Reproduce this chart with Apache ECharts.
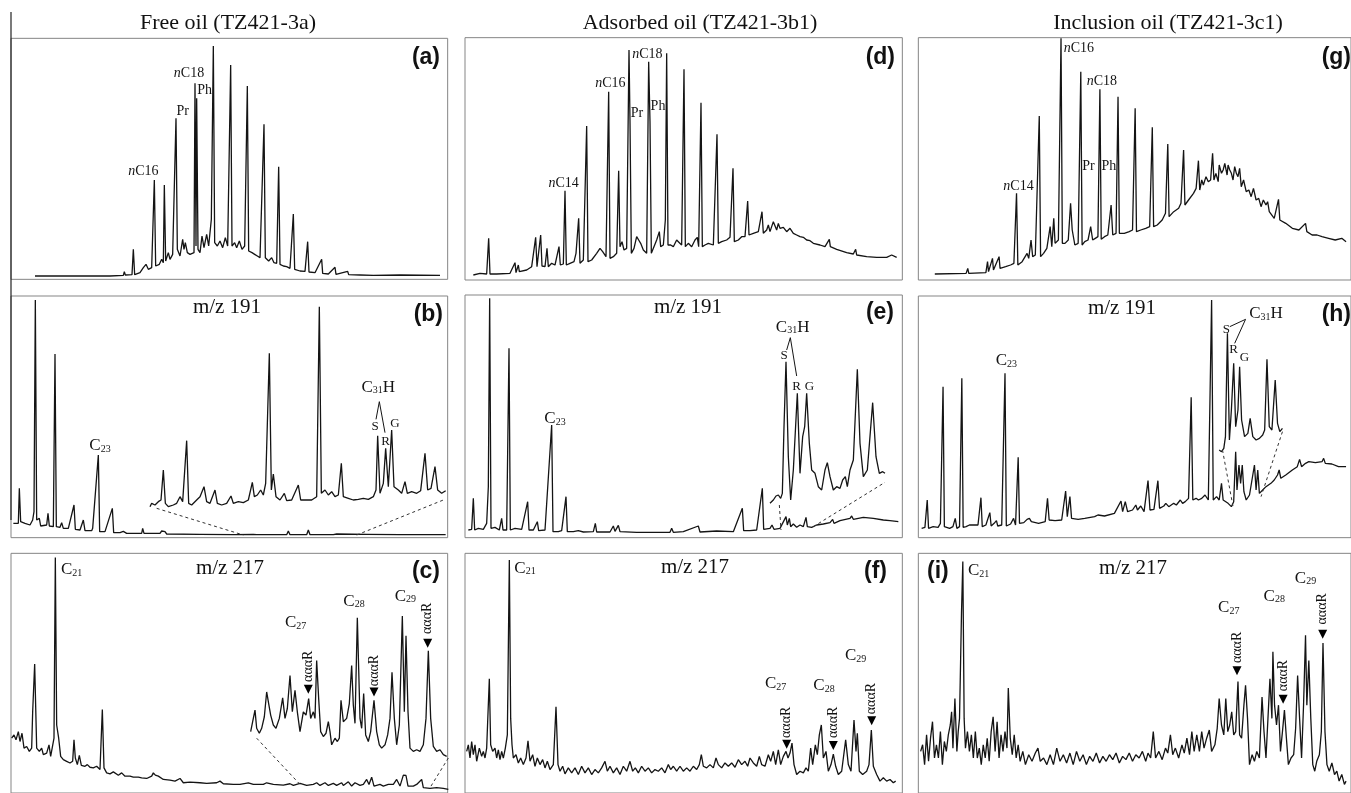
<!DOCTYPE html>
<html><head><meta charset="utf-8">
<script src="https://cdn.jsdelivr.net/npm/echarts/dist/echarts.min.js"></script>
<style>html,body{margin:0;padding:0;background:#fff}#c{width:1351px;height:793px}</style>
</head><body><div id="c"></div>
<script>
// ---------------- DATA (x = scan index, y = relative abundance) ----------------
const panelTitles = ['Free oil (TZ421-3a)', 'Adsorbed oil (TZ421-3b1)', 'Inclusion oil (TZ421-3c1)'];
const panelLetters = ['(a)','(b)','(c)','(d)','(e)','(f)','(g)','(h)','(i)'];
const ionLabels = ['m/z 191','m/z 217'];
const alphaLabel = '\u03b1\u03b1\u03b1R';

const traceA = [[105,10],[330,10],[332,16],[335,10],[370,12],[373,23],[376,13],[396,14],[400,90],[404,14],[420,20],[430,35],[438,45],[445,30],[455,35],[460,32],[463,298],[467,40],[478,45],[485,60],[490,50],[493,283],[497,55],[505,80],[510,60],[518,75],[524,70],[528,483],[532,90],[540,70],[548,120],[552,90],[556,110],[562,80],[570,75],[576,70],[582,80],[585,588],[588,100],[590,543],[594,90],[600,80],[606,130],[612,95],[620,135],[626,100],[634,180],[640,700],[644,110],[652,100],[660,115],[668,95],[676,125],[683,100],[692,643],[696,100],[704,110],[710,95],[718,115],[726,90],[734,100],[742,580],[746,85],[756,80],[764,75],[772,70],[780,65],[792,465],[796,65],[806,55],[815,65],[822,50],[830,48],[836,338],[840,45],[850,40],[860,38],[870,33],[880,196],[884,30],[900,25],[915,24],[923,113],[927,22],[945,20],[965,60],[968,18],[985,16],[1005,36],[1008,15],[1043,24],[1046,14],[1080,13],[1120,12],[1200,13],[1320,12]];

const traceD = [[70,15],[90,20],[110,18],[116,125],[120,18],[140,18],[180,20],[195,52],[198,22],[205,45],[208,25],[230,30],[245,40],[257,128],[261,40],[272,135],[276,42],[285,40],[291,95],[295,40],[305,50],[315,45],[327,100],[331,45],[340,48],[345,268],[349,45],[360,50],[372,55],[378,80],[386,185],[390,50],[400,60],[410,462],[414,55],[425,60],[440,80],[450,95],[458,85],[468,70],[476,565],[480,65],[490,70],[500,80],[506,328],[510,100],[516,115],[522,90],[530,95],[537,690],[540,475],[544,80],[552,95],[560,130],[566,120],[572,110],[580,90],[590,80],[596,655],[600,475],[604,80],[614,105],[620,120],[628,145],[632,100],[640,105],[646,180],[650,680],[654,105],[662,105],[670,100],[680,120],[688,112],[695,105],[702,632],[706,100],[715,110],[725,100],[735,120],[742,128],[746,100],[753,532],[757,100],[765,105],[775,110],[790,105],[801,437],[805,110],[815,115],[830,120],[840,128],[849,335],[853,115],[865,120],[875,130],[885,130],[893,237],[897,135],[910,140],[925,145],[936,205],[940,140],[950,150],[955,165],[960,145],[965,160],[970,175],[975,170],[980,150],[985,170],[990,155],[995,150],[1000,158],[1005,160],[1010,145],[1015,150],[1020,155],[1030,140],[1040,135],[1050,130],[1060,128],[1070,120],[1080,118],[1090,110],[1110,105],[1125,100],[1138,122],[1141,100],[1160,92],[1190,82],[1210,78],[1217,92],[1220,75],[1250,70],[1280,68],[1310,68],[1325,75],[1340,68]];

const traceG = [[105,18],[200,20],[205,35],[208,20],[260,22],[265,55],[268,25],[280,65],[283,30],[300,70],[303,35],[320,40],[335,45],[345,50],[353,260],[357,45],[370,55],[385,80],[390,65],[397,120],[402,70],[410,75],[422,492],[426,70],[435,80],[445,95],[455,160],[460,100],[466,185],[470,110],[480,120],[488,725],[492,110],[500,110],[510,120],[517,230],[522,150],[530,105],[540,110],[548,625],[552,105],[560,115],[570,120],[578,160],[584,120],[592,125],[600,130],[606,572],[610,122],[620,130],[630,135],[640,225],[645,135],[655,140],[661,550],[665,140],[680,140],[695,145],[705,150],[713,515],[717,145],[730,150],[745,155],[757,160],[765,458],[769,160],[780,165],[795,180],[805,200],[812,408],[816,190],[830,205],[845,215],[852,230],[860,390],[864,225],[875,240],[890,260],[898,275],[905,358],[909,270],[915,300],[920,285],[928,310],[935,295],[942,300],[948,380],[952,300],[958,320],[965,295],[968,345],[975,320],[980,330],[985,350],[992,315],[995,345],[1000,330],[1005,320],[1010,300],[1015,340],[1020,320],[1025,310],[1030,335],[1035,280],[1042,300],[1050,265],[1058,270],[1065,250],[1072,275],[1080,240],[1088,245],[1095,220],[1102,240],[1110,225],[1115,235],[1120,205],[1135,185],[1148,242],[1152,180],[1170,170],[1190,155],[1210,150],[1230,170],[1234,145],[1250,135],[1265,135],[1280,130],[1300,125],[1320,120],[1340,125],[1353,115]];

const traceB = [[40,43],[55,43],[58,148],[62,48],[75,43],[90,38],[98,53],[102,78],[106,713],[110,53],[118,58],[122,35],[140,38],[144,73],[148,35],[160,33],[165,551],[169,33],[180,31],[185,45],[190,28],[205,28],[222,98],[226,25],[240,23],[250,53],[255,21],[275,21],[278,28],[295,248],[299,18],[315,18],[320,23],[337,88],[341,15],[360,15],[370,19],[380,13],[425,13],[428,28],[432,13],[480,13],[485,20],[495,18],[500,11],[600,10],[700,9],[760,10],[765,15],[770,9],[860,9],[865,20],[870,9],[920,9],[925,23],[930,9],[1000,9],[1010,11],[1100,10],[1200,9],[1337,9]];
const insetB = [[450,93],[455,103],[465,98],[475,108],[483,113],[490,203],[496,103],[505,93],[520,98],[530,103],[540,123],[548,108],[560,291],[566,103],[575,98],[590,113],[600,123],[612,153],[620,108],[630,103],[645,143],[652,103],[665,98],[680,103],[693,125],[700,103],[715,108],[730,105],[745,113],[757,166],[763,123],[772,128],[782,143],[790,128],[797,163],[808,553],[814,143],[820,191],[828,123],[840,113],[853,133],[860,111],[875,113],[895,158],[902,113],[915,113],[935,113],[950,123],[958,693],[964,133],[975,143],[985,128],[995,138],[1005,123],[1015,128],[1024,223],[1030,123],[1045,118],[1060,113],[1075,115],[1090,118],[1105,115],[1120,123],[1128,143],[1133,306],[1140,133],[1150,163],[1157,268],[1165,153],[1175,323],[1182,153],[1195,143],[1205,133],[1215,168],[1222,133],[1235,138],[1250,133],[1262,141],[1275,253],[1283,143],[1293,148],[1305,213],[1313,143],[1325,133],[1337,141]];
const guidesB = [[[470,88],[730,8]], [[1070,8],[1330,113]]];
const caretB = [[1128,355],[1138,408],[1155,315]];

const traceE = [[55,23],[65,25],[70,118],[74,23],[85,28],[100,25],[110,43],[115,153],[119,718],[123,28],[135,31],[148,23],[155,58],[159,23],[170,23],[177,568],[181,23],[195,28],[200,23],[215,25],[233,108],[237,23],[250,23],[262,48],[266,21],[285,23],[290,18],[305,338],[309,18],[325,18],[335,21],[348,123],[352,18],[370,18],[385,21],[400,17],[430,18],[436,43],[440,17],[480,17],[490,35],[495,19],[505,37],[510,18],[560,16],[660,16],[665,28],[670,16],[700,18],[745,35],[750,17],[800,20],[850,18],[877,88],[881,21],[900,21],[920,23],[937,148],[941,25],[960,28],[966,38],[972,25],[990,28],[1008,63],[1012,38],[1018,58],[1022,33],[1030,41],[1040,31],[1050,38],[1060,33],[1068,61],[1072,33],[1085,31],[1100,38],[1120,41],[1140,45],[1148,55],[1152,43],[1170,51],[1200,58],[1205,65],[1210,55],[1240,61],[1270,58],[1300,53],[1320,51],[1345,48]];
const insetE = [[960,103],[970,113],[978,125],[985,128],[992,118],[997,133],[1002,333],[1008,528],[1015,243],[1022,113],[1030,203],[1042,433],[1050,193],[1058,303],[1064,333],[1070,433],[1078,283],[1085,203],[1095,193],[1105,153],[1115,143],[1125,203],[1132,225],[1140,183],[1150,143],[1160,153],[1170,148],[1178,173],[1186,183],[1192,153],[1200,203],[1210,233],[1222,505],[1230,283],[1240,183],[1252,203],[1268,405],[1278,243],[1288,193],[1298,198],[1305,193]];
const guidesE = [[[988,98],[993,23]], [[1090,33],[1305,166]]];
const caretE = [[1010,563],[1021,600],[1040,485]];

const traceH = [[65,28],[75,31],[82,113],[86,28],[100,33],[115,31],[122,43],[130,453],[134,33],[150,28],[160,33],[167,58],[172,28],[180,33],[187,478],[191,31],[200,33],[210,38],[225,38],[236,38],[245,120],[249,33],[260,38],[272,75],[276,35],[285,43],[292,51],[296,35],[308,38],[318,493],[322,35],[335,41],[344,58],[350,38],[358,241],[362,43],[375,45],[385,55],[392,58],[398,48],[420,43],[440,48],[447,118],[452,53],[470,51],[490,53],[502,140],[507,63],[515,123],[520,58],[540,55],[560,58],[590,63],[600,68],[620,65],[650,73],[670,110],[675,78],[683,108],[690,78],[705,83],[715,98],[720,83],[730,95],[740,78],[752,171],[758,83],[770,85],[782,171],[787,88],[800,95],[806,103],[815,93],[830,103],[838,98],[850,113],[857,103],[865,108],[875,118],[883,421],[888,113],[898,118],[905,113],[915,118],[925,128],[935,113],[945,713],[950,113],[960,123],[968,113],[975,163],[980,113],[995,103],[1005,93],[1012,108],[1018,258],[1022,143],[1028,218],[1033,163],[1038,218],[1043,138],[1050,113],[1060,128],[1065,133],[1075,218],[1080,143],[1085,203],[1090,133],[1100,143],[1110,153],[1125,163],[1135,173],[1145,188],[1150,203],[1155,178],[1170,188],[1190,203],[1205,213],[1212,235],[1218,213],[1230,223],[1240,228],[1260,225],[1280,228],[1285,238],[1290,223],[1310,221],[1330,213],[1353,213]];
const insetH = [[968,263],[975,258],[982,268],[987,303],[993,613],[999,293],[1005,383],[1012,523],[1018,333],[1025,383],[1030,513],[1036,353],[1045,303],[1055,313],[1062,358],[1070,303],[1080,293],[1090,298],[1100,308],[1106,323],[1113,535],[1120,333],[1128,323],[1138,473],[1145,343],[1152,318],[1160,328]];
const guidesH = [[[978,263],[1010,93]], [[1160,318],[1095,123]]];
const caretH = [[1000,633],[1048,655],[1015,583]];

const traceC = [[35,166],[42,176],[48,161],[55,186],[60,156],[66,181],[72,136],[80,141],[88,126],[95,136],[98,246],[104,391],[110,136],[118,126],[125,136],[130,116],[140,121],[147,146],[152,111],[158,111],[162,166],[166,713],[170,206],[176,166],[182,111],[190,101],[200,96],[210,91],[218,96],[222,161],[226,106],[232,86],[238,114],[244,84],[255,81],[262,86],[270,78],[280,76],[290,81],[300,71],[307,253],[312,76],[320,61],[330,58],[340,64],[355,54],[365,61],[375,51],[390,51],[400,48],[415,48],[425,46],[440,44],[455,51],[460,61],[466,54],[475,51],[490,41],[510,39],[525,36],[540,44],[550,31],[570,33],[600,31],[620,29],[650,31],[660,36],[670,28],[700,26],[720,26],[745,31],[760,26],[790,26],[800,31],[820,26],[850,24],[870,28],[880,23],[900,29],[920,23],[940,26],[950,31],[960,23],[975,31],[985,23],[1000,29],[1010,23],[1025,31],[1030,23],[1045,34],[1055,21],[1065,31],[1080,23],[1090,26],[1100,41],[1107,26],[1115,48],[1122,21],[1140,26],[1150,21],[1165,26],[1180,26],[1190,41],[1200,21],[1210,54],[1218,53],[1224,21],[1240,21],[1250,26],[1265,41],[1270,16],[1290,14],[1310,16],[1330,14],[1345,11]];
const insetC = [[752,186],[758,216],[765,251],[770,196],[778,181],[785,196],[793,231],[800,306],[806,271],[812,236],[820,206],[828,196],[838,226],[848,288],[855,226],[862,256],[870,356],[877,246],[885,311],[892,246],[900,186],[910,246],[918,236],[926,286],[932,226],[940,246],[945,226],[950,401],[956,286],[962,186],[970,171],[978,181],[985,216],[990,186],[995,146],[1005,166],[1012,156],[1018,166],[1023,281],[1030,216],[1040,226],[1048,271],[1055,386],[1060,266],[1065,211],[1072,531],[1080,226],[1085,196],[1091,301],[1097,176],[1105,156],[1112,186],[1122,281],[1130,186],[1138,146],[1145,136],[1155,146],[1163,176],[1170,226],[1176,366],[1183,226],[1190,146],[1198,206],[1207,536],[1213,246],[1218,476],[1224,246],[1230,136],[1240,126],[1250,131],[1260,126],[1270,146],[1278,226],[1285,431],[1292,226],[1300,141],[1310,126],[1320,131],[1330,116],[1340,111]];
const guidesC = [[[770,166],[900,26]], [[1345,106],[1290,16]]];

const traceF = [[50,126],[55,146],[60,106],[65,156],[70,116],[75,146],[80,96],[88,136],[95,111],[100,126],[105,106],[110,136],[113,216],[118,346],[122,146],[128,126],[135,136],[140,106],[145,131],[150,101],[155,126],[160,106],[166,136],[172,176],[178,706],[182,226],[186,146],[190,106],[198,116],[205,91],[212,106],[220,86],[228,106],[234,158],[240,96],[248,116],[255,81],[262,106],[270,86],[278,101],[285,76],[292,96],[300,71],[310,86],[318,261],[324,86],[330,66],[338,81],[345,58],[355,76],[365,61],[375,76],[385,56],[395,81],[405,61],[415,76],[425,56],[435,71],[445,61],[455,76],[465,96],[472,66],[480,81],[490,61],[500,76],[510,56],[520,81],[530,66],[540,96],[548,66],[556,76],[565,61],[575,81],[585,66],[595,76],[605,61],[615,71],[625,66],[635,76],[645,61],[655,86],[662,71],[670,81],[680,66],[690,81],[700,66],[710,76],[720,66],[730,81],[740,71],[748,86],[754,116],[760,81],[770,76],[780,86],[790,76],[798,106],[805,86],[815,76],[825,91],[835,81],[845,91],[855,78],[865,101],[875,86],[885,96],[893,81],[900,106],[910,91],[920,81],[928,111],[935,86],[945,81],[955,116],[962,96],[970,126],[977,86],[985,131],[992,86],[1000,111],[1008,126],[1014,106],[1020,121],[1026,151],[1032,86],[1040,56],[1050,66],[1060,61],[1068,76],[1075,66],[1082,136],[1088,86],[1096,146],[1102,116],[1108,176],[1114,206],[1120,106],[1128,126],[1135,66],[1143,86],[1150,118],[1157,81],[1165,56],[1175,66],[1187,161],[1195,86],[1203,66],[1212,221],[1218,126],[1222,181],[1228,66],[1238,56],[1250,66],[1257,86],[1264,191],[1270,81],[1280,56],[1290,36],[1300,46],[1310,36],[1320,41],[1330,31],[1337,36]];

const traceI = [[62,126],[68,146],[74,86],[80,176],[86,96],[92,166],[98,216],[104,106],[110,146],[116,106],[122,186],[128,86],[134,156],[140,126],[146,176],[152,206],[156,246],[160,136],[166,286],[172,126],[176,186],[180,226],[186,546],[190,701],[194,226],[198,136],[204,186],[210,126],[216,176],[222,106],[228,186],[234,106],[240,136],[246,86],[252,146],[258,106],[264,166],[270,96],[276,186],[282,231],[288,126],[294,216],[300,106],[306,176],[312,126],[318,186],[324,136],[328,318],[334,166],[340,116],[346,176],[352,106],[358,146],[364,96],[372,126],[380,86],[390,116],[400,96],[410,121],[418,136],[425,96],[435,106],[445,86],[455,116],[465,86],[475,136],[485,96],[495,116],[505,91],[515,121],[525,86],[535,126],[545,96],[555,116],[565,86],[575,111],[585,96],[595,121],[605,91],[615,111],[625,96],[635,116],[645,101],[655,121],[665,91],[675,111],[685,101],[695,121],[705,96],[715,116],[725,106],[735,126],[745,96],[752,121],[760,106],[768,186],[775,106],[785,126],[795,101],[805,136],[812,121],[820,176],[827,116],[835,136],[845,106],[855,146],[862,121],[870,166],[878,116],[885,186],[892,126],[900,176],[908,126],[915,186],[922,136],[930,166],[938,191],[945,126],[955,146],[962,196],[968,286],[975,206],[982,176],[988,286],[994,186],[1000,206],[1006,246],[1012,176],[1018,186],[1025,338],[1030,176],[1036,166],[1043,266],[1048,326],[1054,226],[1060,86],[1068,116],[1075,96],[1082,126],[1090,106],[1098,291],[1104,186],[1110,106],[1116,226],[1122,346],[1128,226],[1131,428],[1136,266],[1142,206],[1148,266],[1154,126],[1160,186],[1166,251],[1172,166],[1178,86],[1186,106],[1194,116],[1200,196],[1206,356],[1212,226],[1218,106],[1224,266],[1230,478],[1234,266],[1240,401],[1246,226],[1252,86],[1258,66],[1264,96],[1272,116],[1278,186],[1283,454],[1289,186],[1295,86],[1302,66],[1310,91],[1318,56],[1325,66],[1332,36],[1340,56],[1348,26],[1353,36]];

// peak labels: [x, y, text]
const labelsA = [[430,323,'nC16'],[548,503,'Pr'],[567,618,'nC18'],[614,568,'Ph']];
const labelsD = [[341,290,'nC14'],[481,590,'nC16'],[561,500,'Pr'],[592,677,'nC18'],[624,520,'Ph']];
const labelsG = [[359,280,'nC14'],[542,695,'nC16'],[612,595,'nC18'],[571,340,'Pr'],[633,340,'Ph']];
const labelsB = [[300,276,'C23'],[1135,451,'C31H'],[1125,333,'S'],[1157,288,'R'],[1185,343,'G']];
const labelsE = [[315,356,'C23'],[1028,631,'C31H'],[1002,546,'S'],[1040,453,'R'],[1078,453,'G']];
const labelsH = [[322,531,'C23'],[1110,671,'C31H'],[990,623,'S'],[1012,563,'R'],[1045,541,'G']];
const labelsC = [[215,676,'C21'],[887,516,'C27'],[1062,581,'C28'],[1216,596,'C29']];
const labelsF = [[225,681,'C21'],[977,331,'C27'],[1122,326,'C28'],[1217,416,'C29']];
const labelsI = [[238,674,'C21'],[997,561,'C27'],[1135,596,'C28'],[1230,651,'C29']];
// aaaR markers: [x, arrowY, textY]
const arrowsC = [[925,314,384],[1122,306,371],[1283,454,529]];
const arrowsF = [[1010,148,214],[1150,144,214],[1265,219,286]];
const arrowsI = [[1022,370,441],[1162,284,356],[1282,481,558]];

// ---------------- LAYOUT (per panel: originX, originY, L, R, T, B) ----------------
const layout = {
  a:[0,0,33,1343,115,838],   b:[0,270,33,1343,78,803],   c:[0,520,33,1343,100,826],
  d:[450,0,45,1357,113,840], e:[450,270,45,1357,75,803], f:[450,520,45,1357,100,826],
  g:[900,0,55,1368,113,840], h:[900,270,55,1368,78,803], i:[900,520,55,1368,100,826]
};
const panels = [
  {id:'a', trace:traceA, labels:labelsA},
  {id:'b', trace:traceB, inset:insetB, guides:guidesB, caret:caretB, labels:labelsB},
  {id:'c', trace:traceC, inset:insetC, guides:guidesC, labels:labelsC, arrows:arrowsC},
  {id:'d', trace:traceD, labels:labelsD},
  {id:'e', trace:traceE, inset:insetE, guides:guidesE, caret:caretE, labels:labelsE},
  {id:'f', trace:traceF, labels:labelsF, arrows:arrowsF},
  {id:'g', trace:traceG, labels:labelsG},
  {id:'h', trace:traceH, inset:insetH, guides:guidesH, caret:caretH, labels:labelsH},
  {id:'i', trace:traceI, labels:labelsI, arrows:arrowsI}
];

const SERIF = '"Liberation Serif","Times New Roman",serif';
const SANS = '"Liberation Sans",Arial,sans-serif';
const INK = '#141414';

function fmt(s){
  if (/^nC\d+$/.test(s)) return '{it|n}{tx|' + s.slice(1) + '}';
  const m = s.match(/^C(\d+)(\w*)$/);
  if (m) return '{cc|C}{sb|' + m[1] + '}' + (m[2] ? '{cc|' + m[2] + '}' : '');
  if (s.length === 1) return '{sm|' + s + '}';
  return '{tx|' + s + '}';
}
const rich = {
  it:{fontFamily:SERIF, fontStyle:'italic', fontSize:14, color:INK, verticalAlign:'bottom'},
  tx:{fontFamily:SERIF, fontSize:14, color:INK, verticalAlign:'bottom'},
  cc:{fontFamily:SERIF, fontSize:17, color:INK, verticalAlign:'bottom'},
  sb:{fontFamily:SERIF, fontSize:10, color:INK, verticalAlign:'bottom'},
  sm:{fontFamily:SERIF, fontSize:13, color:INK, verticalAlign:'bottom'}
};

const grid = [], xAxis = [], yAxis = [], series = [];
panels.forEach((p, gi) => {
  const [ox, oy, L, R, T, B] = layout[p.id];
  grid.push({left: ox + L/3, top: oy + T/3, width: (R-L)/3, height: (B-T)/3,
    show:true, borderColor:'#858585', borderWidth:1, backgroundColor:'transparent'});
  xAxis.push({type:'value', gridIndex:gi, min:L, max:R, show:false});
  yAxis.push({type:'value', gridIndex:gi, min:0, max:B-T, show:false});
  const lineBase = {type:'line', xAxisIndex:gi, yAxisIndex:gi, showSymbol:false, symbol:'none',
    silent:true, animation:false, clip:true};
  series.push(Object.assign({}, lineBase, {data:p.trace, lineStyle:{color:INK, width:1.3}}));
  if (p.inset) series.push(Object.assign({}, lineBase, {data:p.inset, lineStyle:{color:INK, width:1.3}}));
  (p.guides || []).forEach(g => series.push(Object.assign({}, lineBase,
    {data:g, lineStyle:{color:'#333', width:1, type:[3,3]}})));
  if (p.caret) series.push(Object.assign({}, lineBase, {data:p.caret, lineStyle:{color:INK, width:1}}));
  series.push({type:'scatter', xAxisIndex:gi, yAxisIndex:gi, symbolSize:0, silent:true, animation:false,
    itemStyle:{opacity:1},
    data:p.labels.map(l => ({value:[l[0], l[1]], label:{formatter: fmt(l[2])}})),
    label:{show:true, position:'inside', rich:rich, color:INK}});
  if (p.arrows) {
    series.push({type:'scatter', xAxisIndex:gi, yAxisIndex:gi, symbol:'triangle', symbolRotate:180,
      symbolSize:[9,9], itemStyle:{color:'#000', opacity:1}, silent:true, animation:false,
      data:p.arrows.map(a => [a[0], a[1]])});
    series.push({type:'scatter', xAxisIndex:gi, yAxisIndex:gi, symbolSize:0, silent:true, animation:false,
      itemStyle:{opacity:1},
      data:p.arrows.map(a => [a[0], a[2]]),
      label:{show:true, position:'inside', rotate:90, formatter:alphaLabel,
        fontFamily:SERIF, fontSize:14, color:INK}});
  }
});

// ---------------- TEXT ----------------
const graphic = [];
const titleX = [228, 700, 1168];
panelTitles.forEach((t, k) => graphic.push({type:'text', x:titleX[k], y:23,
  style:{text:t, font:'22px ' + SERIF, fill:'#111', textAlign:'center', textVerticalAlign:'middle'}}));
const letterPos = [[440,58,'right'],[443,315,'right'],[440,572,'right'],
                   [895,58,'right'],[894,313,'right'],[887,572,'right'],
                   [1351,58,'right'],[1351,315,'right'],[927,572,'left']];
panelLetters.forEach((t, k) => graphic.push({type:'text', x:letterPos[k][0], y:letterPos[k][1],
  style:{text:t, font:'bold 23px ' + SANS, fill:'#111', textAlign:letterPos[k][2], textVerticalAlign:'middle'}}));
const ionPos = [[227,307,0],[688,307,0],[1122,308,0],[230,568,1],[695,567,1],[1133,568,1]];
ionPos.forEach(q => graphic.push({type:'text', x:q[0], y:q[1],
  style:{text:ionLabels[q[2]], font:'21px ' + SERIF, fill:'#111', textAlign:'center', textVerticalAlign:'middle'}}));
graphic.push({type:'line', shape:{x1:11, y1:12, x2:11, y2:520}, style:{stroke:'#222', lineWidth:1.2}});

const chart = echarts.init(document.getElementById('c'), null, {renderer:'canvas'});
chart.setOption({backgroundColor:'#fff', animation:false, grid, xAxis, yAxis, series, graphic});
</script></body></html>
